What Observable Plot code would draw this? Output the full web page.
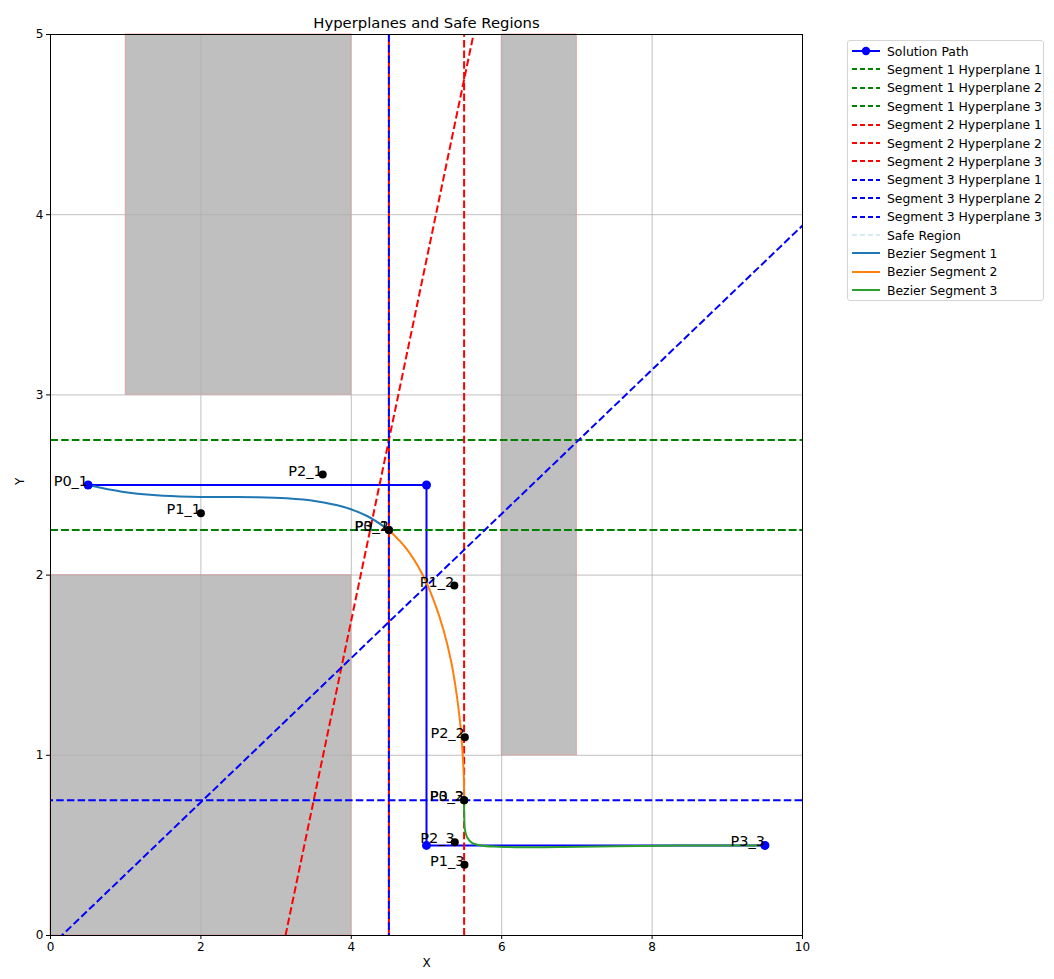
<!DOCTYPE html>
<html><head><meta charset="utf-8">
<script src="https://cdn.jsdelivr.net/npm/d3@7"></script>
<script src="https://cdn.jsdelivr.net/npm/@observablehq/plot@0.6"></script>
<style>
body{margin:0;background:#fff;font-family:"DejaVu Sans",sans-serif;}
#wrap{position:relative;width:1054px;height:979px;}
#legend{position:absolute;left:847px;top:40px;width:197px;height:261px;border:1px solid #d5d5d5;border-radius:3px;box-sizing:border-box;background:#fff;}
.row{position:absolute;left:0;height:18px;display:flex;align-items:center;font-size:12.4px;color:#000;white-space:nowrap;}
.row svg{margin-left:4px;margin-right:7px;}
</style></head><body><div id="wrap"><div id="chart"></div><div id="legend"></div></div>
<script>
// Obstacles
const obsX1 = [1, 0, 6];
const obsX2 = [4, 4, 7];
const obsY1 = [3, 0, 1];
const obsY2 = [5, 2, 5];

// Solution path
const pathX = [0.5, 5, 5, 9.5];
const pathY = [2.5, 2.5, 0.5, 0.5];

// Hyperplanes (endpoints at plot edges)
const hpSeg = [1, 1, 1, 2, 2, 2, 3, 3, 3];
const hpX1 = [0, 0, 0, 4.5, 5.5, 3.125, 4.5, 0, 0.15];
const hpY1 = [2.75, 2.25, 2.25, 0, 0, 0, 0, 0.75, 0];
const hpX2 = [10, 10, 10, 4.5, 5.5, 5.625, 4.5, 10, 10];
const hpY2 = [2.75, 2.25, 2.25, 5, 5, 5, 5, 0.75, 3.94];

// Bezier curves
const bez1X = [0.5, 0.95, 1.41, 1.86, 2.30, 2.73, 3.14, 3.53, 3.89, 4.21, 4.5];
const bez1Y = [2.5, 2.463, 2.443, 2.435, 2.433, 2.432, 2.426, 2.410, 2.379, 2.328, 2.25];
const bez2X = [4.5, 4.74, 4.94, 5.10, 5.23, 5.33, 5.40, 5.45, 5.48, 5.497, 5.5];
const bez2Y = [2.25, 2.143, 2.009, 1.856, 1.690, 1.516, 1.341, 1.170, 1.011, 0.869, 0.75];
const bez3X = [5.5, 5.502, 5.51, 5.54, 5.60, 5.72, 5.96, 6.31, 6.82, 7.50, 8.39, 9.5];
const bez3Y = [0.75, 0.66, 0.59, 0.545, 0.515, 0.500, 0.493, 0.490, 0.491, 0.495, 0.499, 0.5];

// Control points
const cpLabel = ["P0_1","P1_1","P2_1","P3_1","P0_2","P1_2","P2_2","P3_2","P0_3","P1_3","P2_3","P3_3"];
const cpX = [0.5, 2.0, 3.62, 4.5, 4.5, 5.37, 5.51, 5.5, 5.5, 5.505, 5.376, 9.5];
const cpY = [2.5, 2.343, 2.558, 2.25, 2.25, 1.942, 1.10, 0.75, 0.75, 0.392, 0.518, 0.5];

const xTicks = [0, 2, 4, 6, 8, 10];
const yTicks = [0, 1, 2, 3, 4, 5];

const segColors = {1: "green", 2: "red", 3: "blue"};
const bezColors = ["#1f77b4", "#ff7f0e", "#2ca02c"];

const obstacles = obsX1.map((d, i) => ({x1: d, x2: obsX2[i], y1: obsY1[i], y2: obsY2[i]}));
const path = pathX.map((d, i) => ({x: d, y: pathY[i]}));
const hps = hpSeg.map((s, i) => ({seg: s, x1: hpX1[i], y1: hpY1[i], x2: hpX2[i], y2: hpY2[i]}));
const beziers = [[bez1X, bez1Y], [bez2X, bez2Y], [bez3X, bez3Y]].map(([xs, ys]) => xs.map((x, i) => ({x, y: ys[i]})));
const cps = cpLabel.map((l, i) => ({label: l, x: cpX[i], y: cpY[i]}));

const hpMark = (seg, offset) => Plot.link(hps.filter(d => d.seg === seg), {
  x1: "x1", y1: "y1", x2: "x2", y2: "y2",
  stroke: segColors[seg], strokeWidth: 2, strokeDasharray: "7.5,3.2", strokeDashoffset: offset, clip: true
});

const chart = Plot.plot({
  width: 1054, height: 979,
  marginLeft: 50, marginRight: 252, marginTop: 34, marginBottom: 44,
  style: {fontFamily: "DejaVu Sans, sans-serif", fontSize: "12px", background: "#fff"},
  x: {domain: [0, 10]},
  y: {domain: [0, 5]},
  marks: [
    Plot.rect(obstacles, {x1: "x1", x2: "x2", y1: "y1", y2: "y2", fill: "#808080", fillOpacity: 0.5, stroke: "#f08080", strokeOpacity: 0.6, strokeWidth: 1}),
    Plot.gridX(xTicks, {stroke: "#b0b0b0", strokeOpacity: 1, strokeWidth: 0.8}),
    Plot.gridY(yTicks, {stroke: "#b0b0b0", strokeOpacity: 1, strokeWidth: 0.8}),
    Plot.line(path, {x: "x", y: "y", stroke: "#0000ff", strokeWidth: 2}),
    hpMark(1, 0), hpMark(2, 0), hpMark(3, 5),
    ...beziers.map((b, i) => Plot.line(b, {x: "x", y: "y", stroke: bezColors[i], strokeWidth: 2, curve: "catmull-rom"})),
    Plot.dot(cps, {x: "x", y: "y", r: 4, fill: "black"}),
    Plot.dot(path, {x: "x", y: "y", r: 4.5, fill: "#0000ff"}),
    Plot.text(cps, {x: "x", y: "y", text: "label", textAnchor: "end", lineAnchor: "bottom", fontSize: 14.5, fill: "black", dy: 1}),
    Plot.axisX({ticks: xTicks, tickFormat: d => String(d), tickSize: 4, tickPadding: 3, fontSize: 12, label: null}),
    Plot.axisY({ticks: yTicks, tickFormat: d => String(d), tickSize: 4, tickPadding: 3, fontSize: 12, label: null}),
    Plot.frame({stroke: "black", strokeWidth: 1}),
    Plot.text(["Hyperplanes and Safe Regions"], {frameAnchor: "top", dy: -7, lineAnchor: "bottom", fontSize: 14.8, fill: "black"}),
    Plot.text(["X"], {frameAnchor: "bottom", dy: 31, fontSize: 12, fill: "black"}),
    Plot.text(["Y"], {frameAnchor: "left", dx: -30, rotate: -90, fontSize: 12, fill: "black"})
  ]
});
document.getElementById("chart").appendChild(chart);

// Legend
const legendItems = [
  {label: "Solution Path", color: "#0000ff", dash: null, marker: true},
  {label: "Segment 1 Hyperplane 1", color: "green", dash: "5,3"},
  {label: "Segment 1 Hyperplane 2", color: "green", dash: "5,3"},
  {label: "Segment 1 Hyperplane 3", color: "green", dash: "5,3"},
  {label: "Segment 2 Hyperplane 1", color: "red", dash: "5,3"},
  {label: "Segment 2 Hyperplane 2", color: "red", dash: "5,3"},
  {label: "Segment 2 Hyperplane 3", color: "red", dash: "5,3"},
  {label: "Segment 3 Hyperplane 1", color: "blue", dash: "5,3"},
  {label: "Segment 3 Hyperplane 2", color: "blue", dash: "5,3"},
  {label: "Segment 3 Hyperplane 3", color: "blue", dash: "5,3"},
  {label: "Safe Region", color: "#d8eaf2", dash: "5,3"},
  {label: "Bezier Segment 1", color: "#1f77b4", dash: null},
  {label: "Bezier Segment 2", color: "#ff7f0e", dash: null},
  {label: "Bezier Segment 3", color: "#2ca02c", dash: null}
];
const leg = document.getElementById("legend");
legendItems.forEach((it, i) => {
  const row = document.createElement("div");
  row.className = "row";
  row.style.top = (1 + i * 18.4) + "px";
  const svg = d3.create("svg").attr("width", 28).attr("height", 18);
  svg.append("line").attr("x1", 0).attr("x2", 28).attr("y1", 9).attr("y2", 9)
    .attr("stroke", it.color).attr("stroke-width", 2).attr("stroke-dasharray", it.dash);
  if (it.marker) svg.append("circle").attr("cx", 14).attr("cy", 9).attr("r", 4.2).attr("fill", it.color);
  row.appendChild(svg.node());
  const span = document.createElement("span");
  span.textContent = it.label;
  row.appendChild(span);
  leg.appendChild(row);
});
</script>
</body></html>
